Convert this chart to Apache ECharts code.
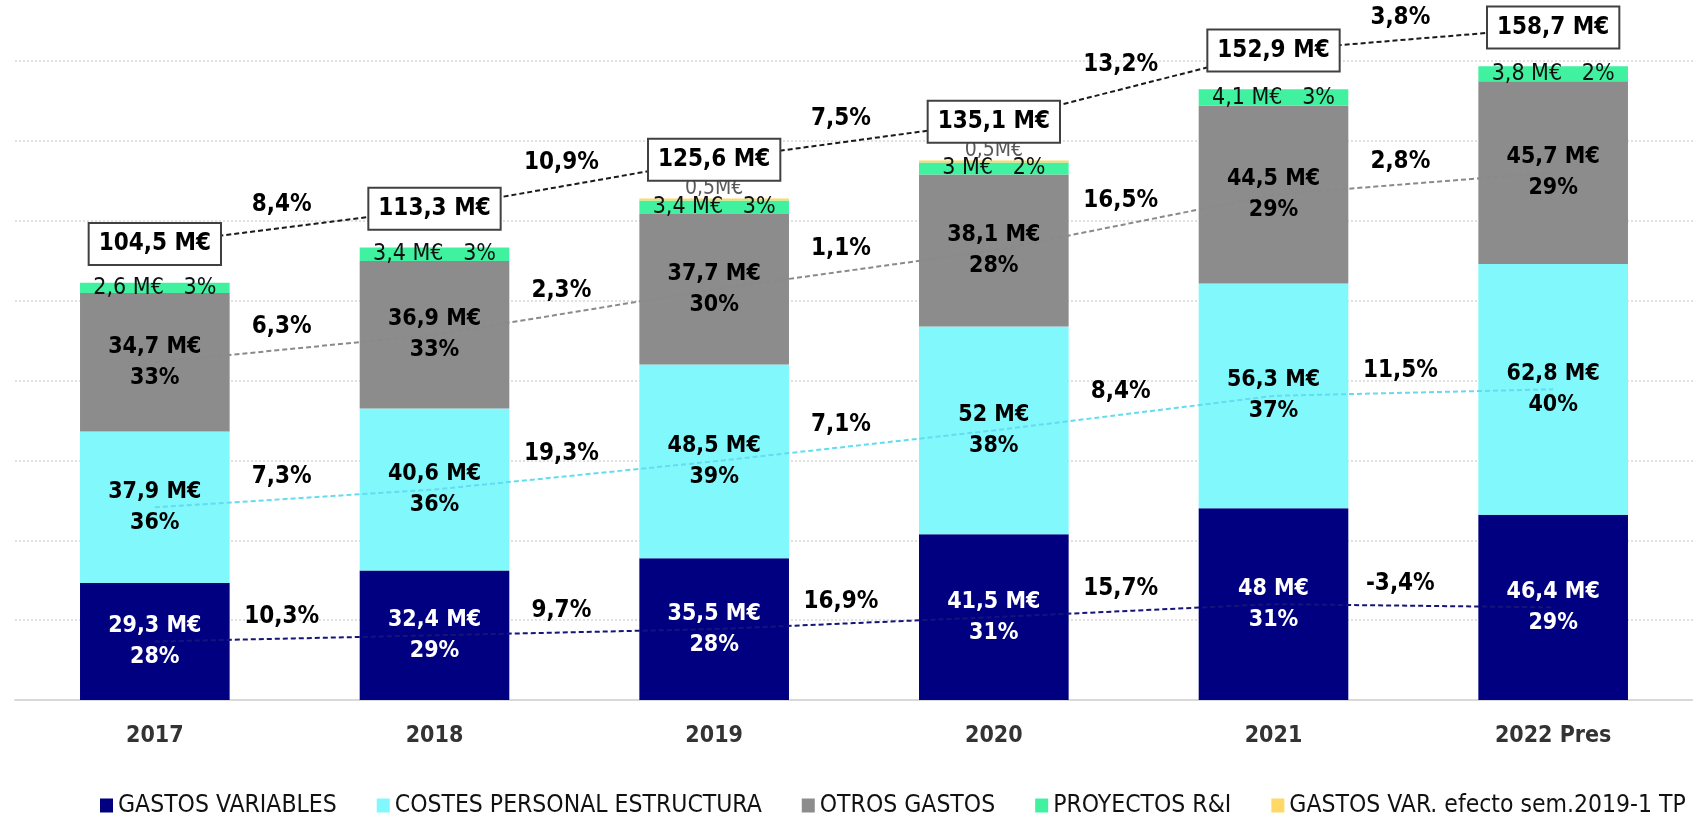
<!DOCTYPE html>
<html>
<head>
<meta charset="utf-8">
<title>Evolución de gastos</title>
<script src="https://cdn.jsdelivr.net/npm/echarts@6/dist/echarts.min.js"></script>
<style>
    html, body { margin: 0; padding: 0; background: #fff; }
    #chart { width: 1693px; height: 816px; }
</style>
</head>
<body>
<div id="chart"></div>
<script>
// datos (M€)
var years = ['2017', '2018', '2019', '2020', '2021', '2022 Pres'];
var gastosVariables = [29.3, 32.4, 35.5, 41.5, 48, 46.4];
var costesPersonal = [37.9, 40.6, 48.5, 52, 56.3, 62.8];
var otrosGastos = [34.7, 36.9, 37.7, 38.1, 44.5, 45.7];
var proyectos = [2.6, 3.4, 3.4, 3, 4.1, 3.8];
var efectoSem = [0, 0, 0.5, 0.5, 0, 0];
var totales = [104.5, 113.3, 125.6, 135.1, 152.9, 158.7];

// peso sobre el total (%)
var pctVariables = [28, 29, 28, 31, 31, 29];
var pctPersonal = [36, 36, 39, 38, 37, 40];
var pctOtros = [33, 33, 30, 28, 29, 29];
var pctProyectos = [3, 3, 3, 2, 3, 2];

// crecimiento interanual (%)
var crecTotal = [8.4, 10.9, 7.5, 13.2, 3.8];
var crecVariables = [10.3, 9.7, 16.9, 15.7, -3.4];
var crecPersonal = [7.3, 19.3, 7.1, 8.4, 11.5];
var crecOtros = [6.3, 2.3, 1.1, 16.5, 2.8];

var legendNames = ['GASTOS VARIABLES', 'COSTES PERSONAL ESTRUCTURA', 'OTROS GASTOS', 'PROYECTOS R&I', 'GASTOS VAR. efecto sem.2019-1 TP'];

var CONDENSED = "'DejaVu Sans Condensed', 'Liberation Sans', sans-serif";

function fmt(v) {
    return String(v).replace('.', ',');
}

var boldFont = {fontFamily: CONDENSED, fontWeight: 'bold'};
var narrowFont = {fontFamily: CONDENSED};

function barSerie(name, data, color, pct, txtColor) {
    return {
        name: name, type: 'bar', stack: 'total', barWidth: '53.5%',
        data: data,
        itemStyle: {color: color},
        label: Object.assign({
            show: true, position: 'inside', color: txtColor,
            fontSize: 23, lineHeight: 31, textBorderWidth: 0,
            formatter: function (p) { return fmt(p.value) + ' M€\n' + pct[p.dataIndex] + '%'; }
        }, boldFont)
    };
}

// línea por el centro de cada tramo, con la variación en el punto medio
function lineData(centers, growth, boxLabel) {
    var d = [];
    for (var i = 0; i < centers.length; i++) {
        var pt = {value: [i + 0.5, centers[i]]};
        if (boxLabel) {
            pt.label = {show: true, position: 'inside', formatter: fmt(boxLabel[i]) + ' M€',
                backgroundColor: '#fff', borderColor: '#404040', borderWidth: 2,
                padding: [8, 9], fontSize: 24, offset: [0, 0]};
        }
        d.push(pt);
        if (i < growth.length) {
            d.push({
                value: [i + 1, (centers[i] + centers[i + 1]) / 2],
                label: {show: true, formatter: fmt(growth[i]) + '%'}
            });
        }
    }
    return d;
}

function lineSerie(data, color, yIdx) {
    return {
        type: 'line', xAxisIndex: 1, yAxisIndex: yIdx,
        data: data, symbol: 'circle', symbolSize: 1,
        itemStyle: {color: 'rgba(0,0,0,0)'},
        lineStyle: {color: color, width: 2, type: [5, 3]},
        label: Object.assign({
            show: false, position: 'top', distance: 9, offset: [-13, 0],
            color: '#000', fontSize: 24, textBorderWidth: 0
        }, boldFont),
        clip: false, silent: true, z: 5
    };
}

var cVar = [], cPers = [], cOtros = [];
for (var i = 0; i < years.length; i++) {
    cVar.push(gastosVariables[i] / 2);
    cPers.push(gastosVariables[i] + costesPersonal[i] / 2);
    cOtros.push(gastosVariables[i] + costesPersonal[i] + otrosGastos[i] / 2);
}

var chart = echarts.init(document.getElementById('chart'));

var option = {
    animation: false,
    grid: {left: 15, right: -16, top: 61, bottom: 116, containLabel: false},
    legend: {
        data: legendNames, left: 95, top: 788, icon: 'rect',
        itemWidth: 13, itemHeight: 14, itemGap: 40,
        textStyle: {fontFamily: CONDENSED, fontSize: 24.5, color: '#111'}
    },
    xAxis: [{
        type: 'category', data: years,
        axisLine: {lineStyle: {color: '#d9d9d9', width: 2}},
        axisTick: {show: false},
        axisLabel: {color: '#333', fontFamily: CONDENSED, fontWeight: 'bold', fontSize: 23, margin: 25}
    }, {
        type: 'value', min: 0, max: 6, show: false
    }],
    yAxis: [{
        type: 'value', min: 0, max: 160, interval: 20,
        axisLabel: {show: false},
        axisLine: {show: false}, axisTick: {show: false},
        splitLine: {lineStyle: {color: '#d6d6d6', width: 1.5, type: [2, 2]}}
    }, {
        // eje auxiliar: la línea de totales va por encima de las barras
        type: 'value', min: -9.7, max: 150.3, show: false
    }],
    series: [
        barSerie(legendNames[0], gastosVariables, '#000080', pctVariables, '#fff'),
        barSerie(legendNames[1], costesPersonal, '#80f8fc', pctPersonal, '#000'),
        barSerie(legendNames[2], otrosGastos, '#8c8c8c', pctOtros, '#000'),
        {
            name: legendNames[3], type: 'bar', stack: 'total', barWidth: '53.5%',
            data: proyectos, itemStyle: {color: '#40f2a0'},
            label: Object.assign({
                show: true, position: 'inside', color: '#111', fontSize: 23, textBorderWidth: 0,
                formatter: function (p) { return fmt(p.value) + ' M€   ' + pctProyectos[p.dataIndex] + '%'; }
            }, narrowFont)
        },
        {
            name: legendNames[4], type: 'bar', stack: 'total', barWidth: '53.5%',
            data: efectoSem, itemStyle: {color: '#ffd966'},
            label: Object.assign({
                show: true, position: 'top', distance: -1, color: '#595959', fontSize: 21, textBorderWidth: 0,
                formatter: function (p) { return p.value ? fmt(p.value) + 'M€' : ''; }
            }, narrowFont)
        },
        lineSerie(lineData(cVar, crecVariables), '#14147a', 0),
        lineSerie(lineData(cPers, crecPersonal), '#62dcef', 0),
        lineSerie(lineData(cOtros, crecOtros), '#8a8a8a', 0),
        lineSerie(lineData(totales, crecTotal, totales), '#1a1a1a', 1)
    ]
};

chart.setOption(option);
</script>
</body>
</html>
